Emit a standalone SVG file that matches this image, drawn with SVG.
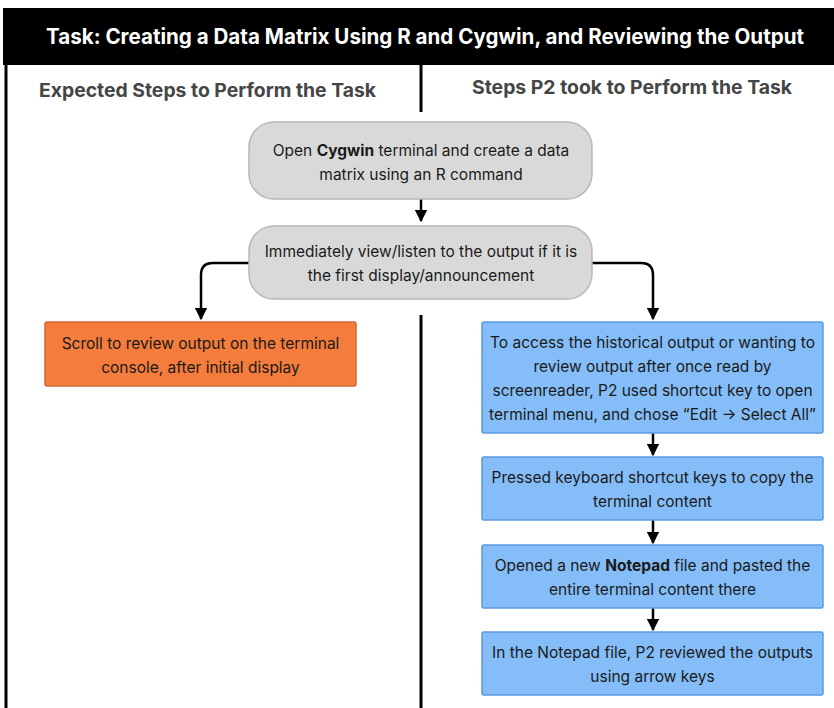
<svg xmlns="http://www.w3.org/2000/svg" width="834" height="708" viewBox="0 0 834 708">
<defs>
<style>
.t{font-family:Inter,"Noto Sans","Liberation Sans",sans-serif;font-size:15.5px;fill:#1a1a1a;text-anchor:middle}
.b{font-weight:700}
.hd{font-family:Inter,"Noto Sans","Liberation Sans",sans-serif;font-weight:700;font-size:19px;fill:#454545;text-anchor:middle}
.gray{fill:#d9d9d9;stroke:#b8b8b8;stroke-width:1.5}
.orange{fill:#f47c3c;stroke:#d26a30;stroke-width:1.5}
.blue{fill:#84bdf7;stroke:#5b9bdc;stroke-width:1.5}
.c{fill:none;stroke:#000;stroke-width:2.5}
</style>
<marker id="ah" viewBox="0 0 10 10" refX="9" refY="5" markerWidth="5" markerHeight="5" orient="auto" markerUnits="strokeWidth">
<path d="M0,0L10,5L0,10z" fill="#000"/>
</marker>
</defs>
<rect width="834" height="708" fill="#fff"/>
<g id="frame">
<rect x="3" y="8" width="831" height="57" fill="#000"/>
<text x="425" y="44" font-family="Inter,'Noto Sans','Liberation Sans',sans-serif" font-weight="700" font-size="21" fill="#fff" text-anchor="middle" textLength="758" lengthAdjust="spacingAndGlyphs">Task: Creating a Data Matrix Using R and Cygwin, and Reviewing the Output</text>
<line x1="6" y1="64" x2="6" y2="708" stroke="#000" stroke-width="3"/>
<line x1="421" y1="64" x2="421" y2="112" stroke="#000" stroke-width="3"/>
<line x1="421" y1="315" x2="421" y2="708" stroke="#000" stroke-width="3"/>
<text class="hd" x="207.5" y="97" textLength="337" lengthAdjust="spacingAndGlyphs">Expected Steps to Perform the Task</text>
<text class="hd" x="632" y="94" textLength="320" lengthAdjust="spacingAndGlyphs">Steps P2 took to Perform the Task</text>
</g>
<g id="connectors">
<line class="c" x1="421" y1="199" x2="421" y2="221" marker-end="url(#ah)"/>
<path class="c" d="M249,263 H213 Q201,263 201,275 V319" marker-end="url(#ah)"/>
<path class="c" d="M592,263 H641 Q653,263 653,275 V319" marker-end="url(#ah)"/>
<line class="c" x1="653" y1="433" x2="653" y2="455" marker-end="url(#ah)"/>
<line class="c" x1="653" y1="520" x2="653" y2="543" marker-end="url(#ah)"/>
<line class="c" x1="653" y1="608" x2="653" y2="630" marker-end="url(#ah)"/>
</g>
<g id="n1">
<rect class="gray" x="249" y="122" width="343" height="77" rx="25"/>
<text class="t" x="421" y="156">Open <tspan class="b">Cygwin</tspan> terminal and create a data</text>
<text class="t" x="421" y="180">matrix using an R command</text>
</g>
<g id="n2">
<rect class="gray" x="249" y="226" width="343" height="73" rx="25"/>
<text class="t" x="421" y="257">Immediately view/listen to the output if it is</text>
<text class="t" x="421" y="281">the first display/announcement</text>
</g>
<g id="n3">
<rect class="orange" x="45" y="322" width="311" height="64" rx="2"/>
<text class="t" x="200.5" y="349">Scroll to review output on the terminal</text>
<text class="t" x="200.5" y="373">console, after initial display</text>
</g>
<g id="n4">
<rect class="blue" x="482" y="322" width="341" height="111" rx="2"/>
<text class="t" x="652.5" y="348">To access the historical output or wanting to</text>
<text class="t" x="652.5" y="372">review output after once read by</text>
<text class="t" x="652.5" y="396">screenreader, P2 used shortcut key to open</text>
<text class="t" x="652.5" y="420">terminal menu, and chose “Edit → Select All”</text>
</g>
<g id="n5">
<rect class="blue" x="482" y="457" width="341" height="63" rx="2"/>
<text class="t" x="652.5" y="483">Pressed keyboard shortcut keys to copy the</text>
<text class="t" x="652.5" y="507">terminal content</text>
</g>
<g id="n6">
<rect class="blue" x="482" y="545" width="341" height="63" rx="2"/>
<text class="t" x="652.5" y="571">Opened a new <tspan class="b">Notepad</tspan> file and pasted the</text>
<text class="t" x="652.5" y="595">entire terminal content there</text>
</g>
<g id="n7">
<rect class="blue" x="482" y="632" width="341" height="63" rx="2"/>
<text class="t" x="652.5" y="658">In the Notepad file, P2 reviewed the outputs</text>
<text class="t" x="652.5" y="682">using arrow keys</text>
</g>
</svg>
